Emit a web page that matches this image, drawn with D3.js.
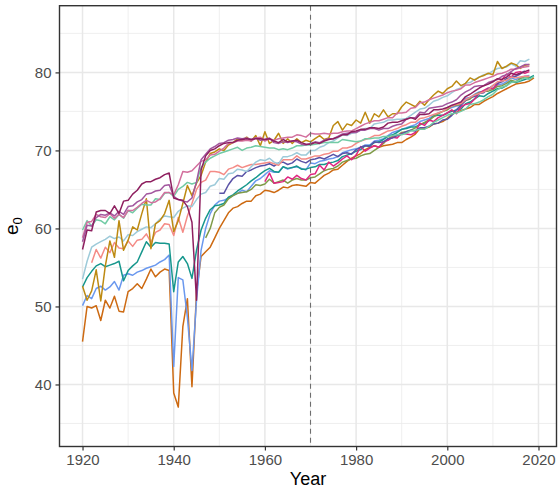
<!DOCTYPE html>
<html><head><meta charset="utf-8">
<script src="https://cdn.jsdelivr.net/npm/d3@7"></script>
<style>body{margin:0;background:#fff}</style>
</head><body><svg id="chart" width="558" height="488"></svg>
<script>
// ---- data (life expectancy at birth e0) ----
const xTicks = [1920, 1940, 1960, 1980, 2000, 2020];
const xMinor = [1930, 1950, 1970, 1990, 2010];
const yTicks = [40, 50, 60, 70, 80];
const yMinor = [35, 45, 55, 65, 75, 85];
const refYear = 1970;

const orangeStart = 1920;
const orangeE0 = [45.5,50.0,49.8,50.1,48.2,50.8,49.8,51.3,49.4,49.3,
 51.9,52.3,52.9,52.3,53.5,54.8,53.8,54.4,54.8,54.6,
 38.9,37.1,47.4,51.0,39.7,51.8,56.4,57.0,57.6,58.8,
 60.0,61.0,62.0,62.6,62.8,63.2,63.5,63.5,64.2,64.4,
 64.9,64.8,64.6,64.9,65.3,65.2,65.5,65.6,65.5,65.4,
 65.9,65.8,66.3,66.8,67.1,67.5,67.6,68.1,68.6,69.0,
 69.3,69.6,70.1,70.4,70.6,70.4,70.6,70.7,70.8,71.0,
 71.0,71.4,71.7,72.1,72.8,72.8,73.0,73.4,73.5,73.7,
 74.1,74.6,74.9,75.1,75.3,75.5,75.9,75.9,76.3,76.6,
 76.9,77.3,77.6,77.9,78.2,78.5,78.6,78.7,78.9,79.3];

const blueStart = 1920;
const blueE0 = [50.1,51.4,51.0,52.3,52.6,52.1,52.5,53.2,52.1,54.0,
 54.2,54.0,54.4,54.6,54.9,55.1,55.3,55.7,56.0,56.6,
 42.3,53.7,53.4,48.6,41.8,50.8,57.2,60.0,61.9,63.0,
 63.5,63.6,63.9,64.2,64.5,64.9,64.7,65.4,66.1,66.4,
 66.9,67.4,67.2,67.2,67.9,67.6,67.8,67.9,67.7,67.5,
 68.4,68.3,68.6,68.7,68.9,69.0,69.2,69.7,69.9,70.1,
 70.2,70.4,70.7,70.7,71.2,71.3,71.5,71.9,72.3,72.5,
 72.7,72.9,73.1,73.3,73.7,73.9,74.1,74.5,74.8,75.0,
 75.3,75.5,75.7,75.8,76.7,76.8,77.2,77.5,77.6,77.8,
 78.0,78.4,78.5,78.8,79.3,79.1,79.3,79.5,79.6];

const tealStart = 1920;
const tealE0 = [52.5,53.7,54.5,55.2,55.5,55.1,55.3,55.5,55.8,53.3,
 54.6,55.2,55.7,57.0,58.3,57.6,58.2,58.1,58.1,58.0,
 51.9,55.7,56.4,55.5,53.6,57.2,59.8,61.3,62.4,62.9,
 63.0,63.2,64.0,64.3,64.8,65.2,65.6,66.1,66.5,67.0,
 67.4,67.7,67.3,67.2,67.9,67.7,67.8,68.0,67.6,67.6,
 67.8,67.9,68.2,68.2,68.4,68.5,68.7,69.2,69.4,69.6,
 69.9,70.1,70.6,70.6,71.0,71.1,71.4,71.8,72.0,72.3,
 72.7,72.8,73.0,73.0,73.3,73.5,73.8,74.4,74.5,74.5,
 74.8,75.0,75.2,75.3,76.0,76.2,76.6,77.0,76.9,77.3,
 77.6,77.9,78.0,78.3,78.8,78.7,78.9,79.1,79.3,79.6];

const salmonStart = 1922;
const salmonE0 = [55.6,57.3,56.2,57.6,56.9,58.2,57.5,57.4,
 58.4,57.7,58.5,58.6,59.3,58.2,59.5,59.8,60.6,60.5,
 59.1,61.4,59.5,61.6,63.2,65.0,65.9,66.2,67.3,67.3,
 67.2,66.9,67.6,67.8,68.1,67.8,68.0,68.2,68.2,68.3,
 68.4,68.5,68.3,68.1,68.8,68.8,68.8,69.3,68.9,68.9,
 69.1,69.3,69.3,69.5,69.6,69.9,69.9,70.3,70.3,70.5,
 70.9,71.2,71.4,71.6,71.9,71.9,72.2,72.5,72.6,72.8,
 73.1,73.3,73.6,73.6,74.1,74.2,74.4,74.6,74.8,75.0,
 75.4,75.7,75.9,76.0,76.5,76.8,77.1,77.3,77.5,77.8,
 78.3,78.8,78.9,79.0,79.4,79.3,79.4,79.5,79.5];

const goldStart = 1920;
const goldE0 = [52.6,50.8,52.0,54.7,50.7,55.2,58.4,56.3,61.0,57.2,
 58.5,60.2,59.8,61.9,63.8,57.4,60.6,61.0,61.9,63.6,
 59.6,61.0,63.2,65.5,64.2,65.8,66.8,68.5,69.6,69.8,
 70.2,70.0,70.7,71.0,71.5,71.3,71.7,71.2,71.9,70.6,
 72.4,70.9,71.3,72.2,70.9,71.5,70.9,71.5,71.0,71.3,
 71.1,71.5,71.9,71.4,71.6,73.2,73.7,72.6,73.4,73.2,
 73.9,73.5,74.9,73.5,74.7,74.3,75.2,74.3,74.7,74.7,
 75.6,76.2,75.9,75.6,76.3,75.8,76.5,77.1,77.6,77.3,
 77.9,78.2,78.9,78.3,78.6,79.3,79.0,79.4,79.6,79.9,
 79.7,81.4,80.5,80.8,81.2,81.0,80.5,80.9,81.0];

const lightBlueStart = 1920;
const lightBlueE0 = [53.5,55.8,57.6,58.0,58.3,58.6,59.0,58.7,58.9,58.4,
 59.2,59.1,59.6,59.9,60.2,60.1,60.6,61.2,61.6,61.5,
 61.4,62.2,62.6,62.9,62.8,63.7,64.4,64.6,65.4,65.6,
 66.4,66.3,67.0,67.1,67.6,67.5,67.3,67.9,68.5,68.8,
 68.7,69.0,68.5,68.3,69.2,69.2,69.4,69.7,69.4,69.4,
 70.0,70.0,70.4,70.6,71.0,71.2,71.6,72.0,71.9,72.2,
 72.3,72.6,72.8,72.8,73.4,73.5,73.6,73.9,73.9,74.0,
 74.0,74.1,74.5,74.9,75.3,75.4,75.8,76.3,76.5,76.8,
 77.0,77.4,77.8,78.0,78.6,78.7,79.1,79.4,79.7,79.8,
 80.2,80.5,80.6,80.7,81.1,80.8,81.5,81.4,81.7];

const mintStart = 1920;
const mintE0 = [59.8,61.0,60.3,61.1,61.0,60.6,61.5,61.1,61.8,61.3,
 62.3,62.0,62.6,63.1,63.0,63.0,63.8,63.7,64.5,64.6,
 64.1,65.0,65.4,65.9,65.7,65.9,67.8,68.5,69.0,69.3,
 69.6,69.8,70.0,70.2,70.4,70.0,70.3,70.4,70.6,70.5,
 70.4,70.3,70.3,70.1,70.2,70.1,70.3,70.6,70.6,70.7,
 70.7,70.8,70.9,71.0,71.0,71.0,71.0,71.4,71.3,71.2,
 71.1,71.2,71.5,71.5,71.6,71.6,71.8,71.8,71.9,72.0,
 72.0,72.2,72.5,72.6,72.7,72.7,73.1,73.6,73.9,74.2,
 74.5,74.7,74.8,75.0,75.3,75.9,76.0,76.2,76.5,76.9,
 77.2,77.8,78.1,78.3,78.7,78.8,79.0,79.3,79.1,79.5];

const roseStart = 1920;
const roseE0 = [58.8,60.8,60.9,61.8,61.5,61.4,61.9,61.3,61.8,61.4,
 62.3,62.3,62.7,63.2,63.6,63.3,63.4,63.8,64.6,64.6,
 64.3,65.6,67.3,67.2,67.4,68.0,68.6,68.8,69.4,69.5,
 69.9,70.3,70.9,71.0,71.2,71.2,71.3,71.2,71.6,71.7,
 71.2,71.5,71.3,71.5,71.6,71.7,71.7,72.0,71.9,71.7,
 72.2,72.1,72.1,72.2,72.1,72.2,72.2,72.4,72.5,72.5,
 72.8,73.1,73.4,73.6,73.8,73.8,74.0,74.2,74.2,74.8,
 74.8,74.9,75.4,75.5,76.1,76.2,76.5,76.7,76.9,77.1,
 77.4,77.6,77.7,77.9,78.4,78.4,78.7,78.9,79.1,79.3,
 79.5,79.8,79.9,80.1,80.4,80.4,80.6,80.7,80.8];

const purpleStart = 1920;
const purpleE0 = [58.3,60.4,60.3,61.4,61.8,61.7,62.0,61.6,62.2,61.8,
 62.8,62.9,63.4,63.7,64.4,64.5,64.8,64.9,65.5,65.6,
 64.1,63.7,63.5,63.4,63.9,66.0,68.8,69.5,70.2,70.5,
 70.9,71.0,71.3,71.4,71.6,71.5,71.6,71.4,71.6,71.3,
 71.4,71.6,71.0,70.9,71.1,71.0,71.2,71.1,70.8,70.7,
 70.9,71.1,71.0,71.3,71.5,71.5,71.8,72.1,72.2,72.3,
 72.3,72.6,72.6,72.8,72.8,72.6,72.8,72.8,73.1,73.3,
 73.4,74.0,74.2,74.2,74.9,74.8,75.4,75.5,75.6,75.7,
 76.0,76.2,76.5,77.1,77.5,77.8,78.2,78.3,78.3,78.7,
 78.9,79.1,79.5,79.7,80.1,80.5,80.7,81.0,81.0];

const wineStart = 1920;
const wineE0 = [57.3,59.8,59.7,62.1,62.3,62.3,61.9,62.9,61.9,63.5,
 63.6,64.4,64.9,65.7,66.0,66.0,66.3,66.5,66.9,67.1,
 63.9,63.7,63.6,62.8,60.8,50.8,67.5,69.3,70.0,70.2,
 70.6,70.9,71.0,71.0,71.3,71.4,71.5,71.4,71.5,71.5,
 71.4,71.5,71.2,71.0,71.4,71.1,71.2,71.3,71.0,70.8,
 70.8,71.0,70.9,71.2,71.4,71.5,71.7,72.0,72.0,72.4,
 72.5,72.7,72.7,72.9,72.9,72.8,73.0,73.5,73.6,73.6,
 73.8,74.0,74.2,74.0,74.6,74.6,74.7,75.2,75.2,75.3,
 75.5,75.8,76.0,76.2,76.9,77.2,77.6,78.0,78.3,78.5,
 78.8,79.2,79.1,79.4,79.9,79.7,79.9,80.1,80.3];

const oliveStart = 1947;
const oliveE0 = [58.8,60.0,62.0,
 62.7,63.0,63.8,64.2,64.5,64.6,64.7,65.0,65.6,65.5,
 65.7,66.3,65.8,66.0,66.2,65.8,66.2,66.4,66.2,66.2,
 66.5,66.6,67.0,67.4,67.6,67.7,68.0,68.5,68.7,68.9,
 69.0,69.3,69.5,69.6,70.0,70.4,70.9,71.5,71.8,71.9,
 72.3,72.4,72.6,72.9,73.3,73.6,73.9,74.3,74.7,75.0,
 75.2,75.7,75.8,75.9,76.4,76.6,77.1,77.4,77.6,77.6,
 77.8,78.2,78.3,78.6,79.0,78.8,79.2,79.4,79.4];

const indigoStart = 1950;
const indigoE0 = [64.5,64.5,65.6,66.4,66.8,66.7,67.3,67.5,67.8,68.0,
 68.1,68.3,68.0,68.4,68.5,68.2,68.4,68.9,68.6,68.4,
 68.8,68.9,69.1,68.9,69.2,69.5,69.2,69.6,69.7,69.5,
 70.1,70.4,70.6,70.5,71.1,71.0,71.1,71.5,71.6,71.9,
 72.1,72.4,72.6,72.5,72.9,72.9,73.1,73.4,73.5,73.9,
 74.0,74.5,75.2,75.8,76.4,76.8,76.9,77.3,77.4,77.9,
 78.3,78.6,78.8,79.2,79.4,79.5,79.8,80.2];

const pinkStart = 1960;
const pinkE0 = [66.0,67.1,65.8,65.9,66.0,66.6,66.3,66.8,66.4,66.2,
 66.9,67.0,68.1,67.5,68.5,68.0,68.4,68.9,69.3,68.8,
 69.4,70.5,69.9,70.3,70.6,70.4,71.1,71.3,71.7,71.6,
 72.2,72.1,72.0,72.3,73.5,73.2,73.9,73.7,74.2,74.5,
 74.8,75.2,74.7,75.6,75.9,76.0,76.6,77.3,77.7,78.0,
 77.9,78.5,79.1,79.8,79.4,80.0,80.1,79.9,80.1];

// series list in drawing order
const series = [
  {start: orangeStart, values: orangeE0, color: "#CD6A12"},
  {start: blueStart, values: blueE0, color: "#6A98EE"},
  {start: tealStart, values: tealE0, color: "#17978D"},
  {start: oliveStart, values: oliveE0, color: "#7F9B48"},
  {start: pinkStart, values: pinkE0, color: "#DF2680"},
  {start: indigoStart, values: indigoE0, color: "#5A52A6"},
  {start: salmonStart, values: salmonE0, color: "#F48B86"},
  {start: lightBlueStart, values: lightBlueE0, color: "#9DCAD9"},
  {start: goldStart, values: goldE0, color: "#BD8A12"},
  {start: mintStart, values: mintE0, color: "#72CBA5"},
  {start: roseStart, values: roseE0, color: "#D3709E"},
  {start: purpleStart, values: purpleE0, color: "#A2569E"},
  {start: wineStart, values: wineE0, color: "#8E1F5F"}
];

// ---- layout ----
const svg = d3.select("#chart");
const P = {left: 59.5, right: 556.5, top: 5.7, bottom: 446.5};
const x = d3.scaleLinear().domain([1914.95, 2023.95]).range([P.left, P.right]);
const y = d3.scaleLinear().domain([32.05, 88.55]).range([P.bottom, P.top]);

svg.append("rect").attr("width", 558).attr("height", 488).attr("fill", "#fff");

const grid = svg.append("g");
grid.selectAll(".xmin").data(xMinor).join("line")
  .attr("x1", d => x(d)).attr("x2", d => x(d)).attr("y1", P.top).attr("y2", P.bottom)
  .attr("stroke", "#EBEBEB").attr("stroke-width", 0.8);
grid.selectAll(".ymin").data(yMinor).join("line")
  .attr("y1", d => y(d)).attr("y2", d => y(d)).attr("x1", P.left).attr("x2", P.right)
  .attr("stroke", "#EBEBEB").attr("stroke-width", 0.8);
grid.selectAll(".xmaj").data(xTicks).join("line")
  .attr("x1", d => x(d)).attr("x2", d => x(d)).attr("y1", P.top).attr("y2", P.bottom)
  .attr("stroke", "#E8E8E8").attr("stroke-width", 1.5);
grid.selectAll(".ymaj").data(yTicks).join("line")
  .attr("y1", d => y(d)).attr("y2", d => y(d)).attr("x1", P.left).attr("x2", P.right)
  .attr("stroke", "#E8E8E8").attr("stroke-width", 1.5);

svg.append("defs").append("clipPath").attr("id", "clip")
  .append("rect").attr("x", P.left).attr("y", P.top)
  .attr("width", P.right - P.left).attr("height", P.bottom - P.top);

const line = d3.line().x(d => x(d.year)).y(d => y(d.e0));
const lines = svg.append("g").attr("clip-path", "url(#clip)");
series.forEach(s => {
  const pts = s.values.map((v, i) => ({year: s.start + i, e0: v}));
  lines.append("path").datum(pts).attr("d", line)
    .attr("fill", "none").attr("stroke", s.color).attr("stroke-width", 1.5)
    .attr("stroke-linejoin", "round");
});

svg.append("line")
  .attr("x1", x(refYear)).attr("x2", x(refYear)).attr("y1", P.top).attr("y2", P.bottom)
  .attr("stroke", "#6E6E6E").attr("stroke-width", 1.1).attr("stroke-dasharray", "5,4");

svg.append("rect").attr("x", P.left).attr("y", P.top)
  .attr("width", P.right - P.left).attr("height", P.bottom - P.top)
  .attr("fill", "none").attr("stroke", "#333333").attr("stroke-width", 1.4);

const font = "'Liberation Sans', Arial, sans-serif";
const xAxis = svg.append("g").attr("transform", `translate(0,${P.bottom})`)
  .call(d3.axisBottom(x).tickValues(xTicks).tickFormat(d3.format("d")).tickSize(4).tickPadding(4));
const yAxis = svg.append("g").attr("transform", `translate(${P.left},0)`)
  .call(d3.axisLeft(y).tickValues(yTicks).tickSize(4).tickPadding(4));
[xAxis, yAxis].forEach(a => {
  a.select(".domain").remove();
  a.selectAll(".tick line").attr("stroke", "#333333").attr("stroke-width", 1.2);
  a.selectAll(".tick text").attr("fill", "#4D4D4D").style("font-family", font).style("font-size", "15px");
});

svg.append("text").attr("x", (P.left + P.right) / 2).attr("y", 485)
  .attr("text-anchor", "middle").style("font-family", font).style("font-size", "18px")
  .attr("fill", "#000").text("Year");

const yt = svg.append("text")
  .attr("transform", `translate(18,${(P.top + P.bottom) / 2}) rotate(-90)`)
  .attr("text-anchor", "middle").style("font-family", font).attr("fill", "#000");
yt.append("tspan").style("font-size", "19px").text("e");
yt.append("tspan").style("font-size", "13px").attr("dy", 4).text("0");
</script></body></html>
